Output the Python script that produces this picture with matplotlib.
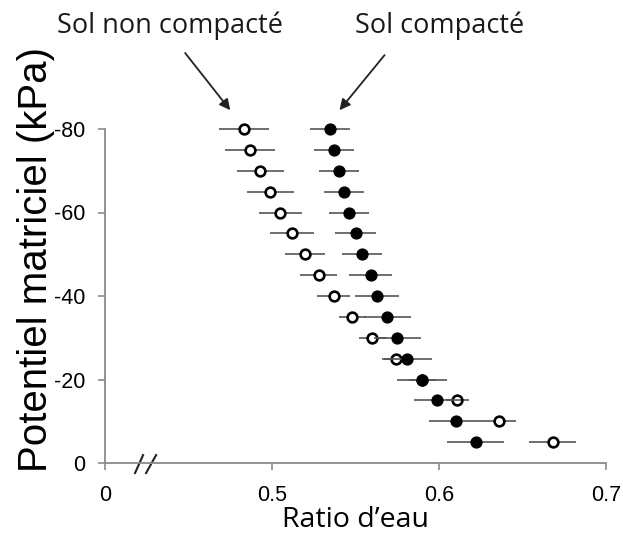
import numpy as np
import matplotlib
matplotlib.use("Agg")
import matplotlib.pyplot as plt

plt.rcParams["axes.unicode_minus"] = False

# potentiel matriciel (kPa)
potentiel = [-80, -75, -70, -65, -60, -55, -50, -45, -40, -35, -30, -25, -20, -15, -10, -5]

# sol non compacte (cercles vides)
ratio_non = [0.483, 0.487, 0.493, 0.499, 0.505, 0.512, 0.520, 0.528, 0.537,
             0.548, 0.560, 0.574, 0.590, 0.611, 0.636, 0.668]
err_non = [0.015, 0.015, 0.014, 0.014, 0.013, 0.013, 0.012, 0.011, 0.010,
           0.008, 0.008, 0.007, 0.008, 0.007, 0.010, 0.014]

# sol compacte (cercles pleins)
ratio_comp = [0.535, 0.537, 0.540, 0.543, 0.546, 0.550, 0.554, 0.559, 0.563,
              0.569, 0.575, 0.581, 0.590, 0.599, 0.610, 0.622]
err_comp = [0.012, 0.012, 0.012, 0.012, 0.012, 0.012, 0.012, 0.013, 0.013,
            0.014, 0.014, 0.015, 0.015, 0.014, 0.016, 0.017]

x_ticks = [0.4, 0.5, 0.6, 0.7]
x_labels = ["0", "0.5", "0.6", "0.7"]
y_ticks = [0, -20, -40, -60, -80]

W, H = 623, 548
fig = plt.figure(figsize=(W / 100, H / 100), dpi=100)
ax = fig.add_axes([105 / W, 85 / H, 501 / W, 334 / H])

bar_col = "#555555"
ax.errorbar(ratio_non, potentiel, xerr=err_non, fmt="o", ms=7.0, mfc="white",
            mec="black", mew=1.9, ecolor=bar_col, elinewidth=1.2, capsize=0,
            clip_on=False, zorder=3)
ax.errorbar(ratio_comp, potentiel, xerr=err_comp, fmt="o", ms=7.8, mfc="black",
            mec="black", ecolor=bar_col, elinewidth=1.2, capsize=0,
            clip_on=False, zorder=4)

ax.set_xlim(0.4, 0.7)
ax.set_ylim(0, -80)
ax.set_xticks(x_ticks)
ax.set_xticklabels(x_labels)
ax.set_yticks(y_ticks)

for s in ["top", "right"]:
    ax.spines[s].set_visible(False)
for s in ["left", "bottom"]:
    ax.spines[s].set_color("#8a8a8a")
    ax.spines[s].set_linewidth(1.3)

ax.tick_params(direction="out", length=5, width=1.2, color="#8a8a8a",
               labelsize=15.5, labelcolor="black")
ax.tick_params(axis="x", pad=11)
ax.tick_params(axis="y", pad=9)
for lab in ax.get_xticklabels() + ax.get_yticklabels():
    lab.set_fontfamily("Liberation Sans")

# coupure de l'axe x
for x0, x1 in [(0.418, 0.4228), (0.4246, 0.4306)]:
    ax.plot([x0, x1], [2.4, -1.9], color="#222222", lw=1.5, clip_on=False)

ax.set_ylabel("Potentiel matriciel (kPa)", fontsize=29, family="Liberation Sans")
ax.yaxis.set_label_coords(-0.1, 0.61)
ax.set_xlabel("Ratio d\u2019eau", fontsize=20.5, family="Open Sans")
ax.xaxis.set_label_coords(0.5, -0.13)

fig.text(170 / W, 1 - 26 / H, "Sol non compact\u00e9", fontsize=19.5,
         family="Open Sans", ha="center", va="center", color="#1a1a1a")
fig.text(440 / W, 1 - 26 / H, "Sol compact\u00e9", fontsize=19.5,
         family="Open Sans", ha="center", va="center", color="#1a1a1a")

arrow = dict(arrowstyle="-|>", color="#222222", lw=1.3, mutation_scale=16,
             shrinkA=0, shrinkB=0)
ax.annotate("", xy=(0.475, -84.5), xytext=(0.448, -98.2), arrowprops=arrow,
            annotation_clip=False)
ax.annotate("", xy=(0.5404, -84.5), xytext=(0.5674, -97.7), arrowprops=arrow,
            annotation_clip=False)

fig.savefig("out.png", dpi=100)
